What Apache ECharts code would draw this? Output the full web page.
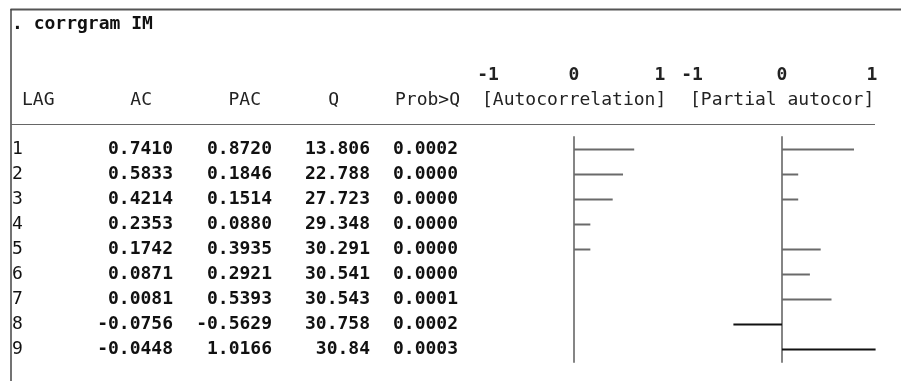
<!DOCTYPE html>
<html>
<head>
<meta charset="utf-8">
<script src="https://cdn.jsdelivr.net/npm/echarts@6/dist/echarts.min.js"></script>
<style>html,body{margin:0;padding:0;background:#fff;}#c{width:901px;height:381px;}</style>
</head>
<body>
<div id="c"></div>
<script>
// ---- data ----
var lags = ['1','2','3','4','5','6','7','8','9'];
var acValues  = [0.7410, 0.5833, 0.4214, 0.2353, 0.1742, 0.0871, 0.0081, -0.0756, -0.0448];
var pacValues = [0.8720, 0.1846, 0.1514, 0.0880, 0.3935, 0.2921, 0.5393, -0.5629, 1.0166];
var qValues   = [13.806, 22.788, 27.723, 29.348, 30.291, 30.541, 30.543, 30.758, 30.84];
var probValues = [0.0002, 0.0000, 0.0000, 0.0000, 0.0000, 0.0000, 0.0001, 0.0002, 0.0003];
// bar lengths as drawn in the character plots
var acBars  = [0.70, 0.57, 0.45, 0.19, 0.19, 0, 0, 0, 0];
var pacBars = [0.80, 0.18, 0.18, 0, 0.43, 0.31, 0.55, -0.54, 1.04];
var axisTicks = [-1, 0, 1];
var headers = ['LAG', 'AC', 'PAC', 'Q', 'Prob>Q'];
var plotTitles = ['[Autocorrelation]', '[Partial autocor]'];
var command = '. corrgram IM';

var MONO = '"DejaVu Sans Mono", "Liberation Mono", monospace';
var chart = echarts.init(document.getElementById('c'), null, {renderer: 'canvas'});

var rowY = function (i) { return 149.5 + 25 * i; };
var graphic = [];
// frame lines
graphic.push({type: 'line', shape: {x1: 10.5, y1: 9.5, x2: 901, y2: 9.5}, style: {stroke: '#555', lineWidth: 2}});
graphic.push({type: 'line', shape: {x1: 11, y1: 9, x2: 11, y2: 381}, style: {stroke: '#444', lineWidth: 1.5}});
graphic.push({type: 'line', shape: {x1: 11, y1: 124.5, x2: 875, y2: 124.5}, style: {stroke: '#666', lineWidth: 1}});
// command
graphic.push({type: 'text', x: 12, y: 24, style: {text: command, font: 'bold 18px ' + MONO, fill: '#111', textVerticalAlign: 'middle'}});
// headers
var headX = [22, 152, 261, 339, 460];
var headAlign = ['left', 'right', 'right', 'right', 'right'];
headers.forEach(function (h, k) {
  graphic.push({type: 'text', x: headX[k], y: 100, style: {text: h, font: '18px ' + MONO, fill: '#222', textAlign: headAlign[k], textVerticalAlign: 'middle'}});
});
graphic.push({type: 'text', x: 482, y: 100, style: {text: plotTitles[0], font: '18px ' + MONO, fill: '#222', textAlign: 'left', textVerticalAlign: 'middle'}});
graphic.push({type: 'text', x: 690, y: 100, style: {text: plotTitles[1], font: '18px ' + MONO, fill: '#222', textAlign: 'left', textVerticalAlign: 'middle'}});
// table rows
lags.forEach(function (lag, i) {
  var y = rowY(i);
  var f = 'bold 18px ' + MONO;
  graphic.push({type: 'text', x: 12, y: y, style: {text: lag, font: '18px ' + MONO, fill: '#111', textAlign: 'left', textVerticalAlign: 'middle'}});
  graphic.push({type: 'text', x: 173, y: y, style: {text: acValues[i].toFixed(4), font: f, fill: '#111', textAlign: 'right', textVerticalAlign: 'middle'}});
  graphic.push({type: 'text', x: 272, y: y, style: {text: pacValues[i].toFixed(4), font: f, fill: '#111', textAlign: 'right', textVerticalAlign: 'middle'}});
  graphic.push({type: 'text', x: 370, y: y, style: {text: String(+qValues[i].toFixed(3)), font: f, fill: '#111', textAlign: 'right', textVerticalAlign: 'middle'}});
  graphic.push({type: 'text', x: 458, y: y, style: {text: probValues[i].toFixed(4), font: f, fill: '#111', textAlign: 'right', textVerticalAlign: 'middle'}});
});

function xAx(idx) {
  return {
    gridIndex: idx, type: 'value', min: -1, max: 1, interval: 1, position: 'top', offset: 53,
    axisLine: {show: false}, axisTick: {show: false}, splitLine: {show: false},
    axisLabel: {fontFamily: MONO, fontSize: 18, fontWeight: 'bold', color: '#222', margin: 0,
      formatter: function (v) { return axisTicks.indexOf(v) >= 0 ? String(v) : ''; }}
  };
}
function yAx(idx) {
  return {
    gridIndex: idx, type: 'category', data: lags, inverse: true,
    axisLine: {show: true, onZero: true, lineStyle: {color: '#858585', width: 2}},
    axisTick: {show: false}, axisLabel: {show: false}, splitLine: {show: false}
  };
}
function barData(arr, darkFrom) {
  return arr.map(function (v, i) {
    return {value: v, itemStyle: {color: (darkFrom !== null && i >= darkFrom) ? '#111' : '#6a6a6a'}};
  });
}

chart.setOption({
  animation: false,
  backgroundColor: '#fff',
  graphic: graphic,
  grid: [
    {left: 488, width: 172, top: 137, height: 225},
    {left: 692, width: 180, top: 137, height: 225}
  ],
  xAxis: [xAx(0), xAx(1)],
  yAxis: [yAx(0), yAx(1)],
  series: [
    {type: 'bar', xAxisIndex: 0, yAxisIndex: 0, data: barData(acBars, null), barWidth: 2, clip: false, silent: true},
    {type: 'bar', xAxisIndex: 1, yAxisIndex: 1, data: barData(pacBars, 7), barWidth: 2, clip: false, silent: true}
  ]
});
</script>
</body>
</html>
